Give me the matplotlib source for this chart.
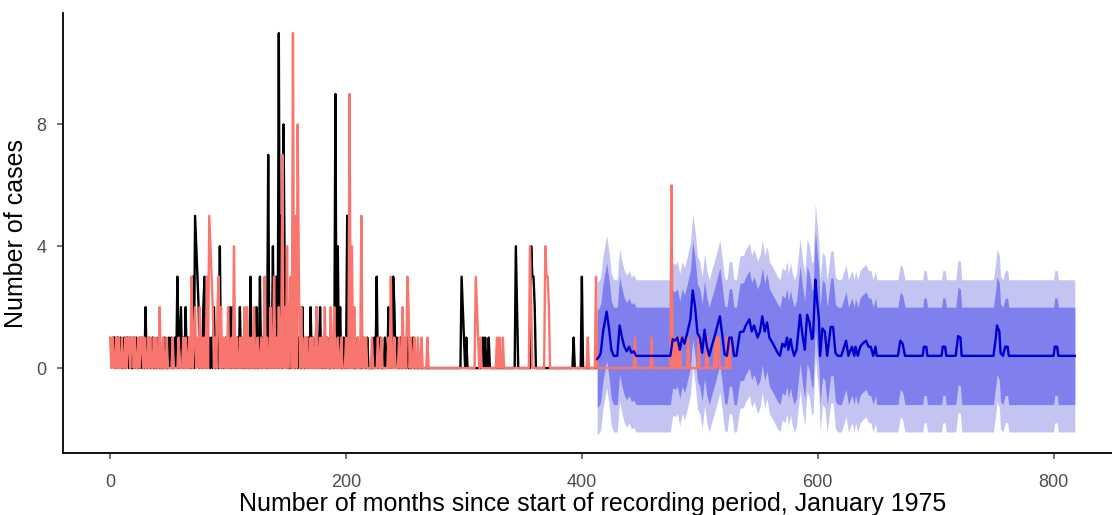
import matplotlib
matplotlib.use("Agg")
import matplotlib.pyplot as plt
import numpy as np

plt.rcParams['font.family'] = ['Liberation Sans', 'DejaVu Sans']

# monthly case counts, only the months with cases (all other months are 0)
obs_months = [3, 4, 6, 7, 9, 12, 14, 15, 17, 20, 22, 25, 27, 30, 33, 36, 41, 46, 50, 52,
              55, 57, 59, 60, 62, 64, 66, 68, 70, 72, 73, 74, 75, 77, 79, 80, 82, 84, 86, 88,
              91, 93, 95, 98, 100, 102, 104, 106, 108, 110, 113, 116, 119, 121, 124, 127, 129, 131, 134, 136,
              138, 140, 141, 143, 145, 147, 148, 150, 153, 155, 158, 160, 163, 166, 168, 170, 172, 175, 178, 181,
              184, 188, 191, 193, 195, 198, 201, 203, 205, 210, 215, 218, 224, 226, 229, 233, 236, 238, 240, 241,
              243, 246, 249, 252, 257, 298, 299, 300, 302, 316, 318, 321, 344, 345, 357, 358, 359, 360, 393, 400]
obs_cases = [1, 1, 1, 1, 1, 1, 1, 1, 1, 1, 1, 1, 1, 2, 1, 1, 1, 1, 1, 1,
             1, 3, 1, 2, 1, 2, 1, 1, 3, 5, 4, 3, 2, 1, 2, 3, 2, 1, 1, 2,
             1, 4, 1, 1, 1, 2, 2, 1, 1, 2, 1, 1, 3, 1, 2, 3, 1, 2, 7, 2,
             4, 1, 3, 11, 5, 8, 3, 2, 1, 1, 1, 1, 2, 1, 1, 2, 1, 2, 2, 1,
             1, 1, 9, 4, 2, 1, 5, 1, 1, 1, 1, 1, 1, 3, 1, 1, 2, 1, 3, 2,
             1, 1, 1, 1, 1, 3, 2, 1, 1, 1, 1, 1, 4, 2, 4, 3, 3, 2, 1, 3]
obs_end = 412

# lagged series (12 months), again only non-zero months
lag_months = [0, 2, 5, 7, 10, 13, 15, 16, 18, 19, 21, 24, 26, 27, 29, 32, 34, 37, 39, 42,
              45, 48, 53, 58, 62, 64, 67, 69, 71, 72, 74, 76, 78, 80, 82, 84, 85, 86, 87, 89,
              91, 92, 94, 96, 98, 100, 103, 105, 107, 110, 112, 114, 116, 118, 120, 122, 125, 128, 131, 133,
              136, 139, 141, 143, 146, 148, 150, 152, 153, 155, 157, 159, 160, 162, 165, 167, 170, 172, 175, 178,
              180, 182, 184, 187, 190, 193, 196, 200, 203, 205, 207, 210, 213, 215, 217, 222, 227, 230, 236, 238,
              241, 245, 248, 250, 252, 253, 255, 258, 261, 264, 269, 310, 311, 312, 314, 328, 330, 333, 356, 357,
              369, 370, 371, 372, 405, 412, 445, 459, 476, 479, 481, 483, 490, 499, 506, 513, 515, 516, 523, 525]
lag_cases = [1, 1, 1, 1, 1, 1, 1, 1, 1, 1, 1, 1, 1, 1, 1, 1, 1, 1, 1, 2,
             1, 1, 1, 1, 1, 1, 1, 3, 1, 2, 1, 2, 1, 1, 3, 5, 4, 3, 2, 1,
             2, 3, 2, 1, 1, 2, 1, 4, 1, 1, 1, 2, 2, 1, 1, 2, 1, 1, 3, 1,
             2, 3, 1, 2, 7, 2, 4, 1, 3, 11, 5, 8, 3, 2, 1, 1, 1, 1, 2, 1,
             1, 2, 1, 2, 2, 1, 1, 1, 9, 4, 2, 1, 5, 1, 1, 1, 1, 1, 1, 3,
             1, 1, 2, 1, 3, 2, 1, 1, 1, 1, 1, 3, 2, 1, 1, 1, 1, 1, 4, 2,
             4, 3, 3, 2, 1, 3, 1, 1, 6, 1, 1, 1, 1, 1, 1, 1, 1, 1, 1, 1]
lag_end = 526

# forecast mean
fc_months = [413, 415, 416, 418, 421, 423, 425, 427, 430, 432, 434, 436, 438, 440, 442, 444, 446, 475, 477, 479,
             481, 483, 485, 487, 489, 492, 494, 496, 498, 500, 502, 504, 506, 508, 510, 513, 517, 519, 521, 523,
             525, 527, 529, 531, 534, 537, 539, 542, 544, 546, 549, 551, 553, 555, 557, 559, 562, 566, 568, 570,
             572, 574, 575, 577, 578, 580, 582, 585, 587, 589, 591, 593, 595, 596, 598, 599, 601, 602, 604, 606,
             608, 611, 613, 615, 617, 620, 624, 626, 629, 631, 632, 634, 636, 638, 641, 643, 645, 647, 649, 650,
             668, 670, 672, 674, 689, 690, 692, 693, 705, 706, 708, 709, 717, 719, 721, 722, 749, 751, 752, 754,
             755, 757, 759, 761, 762, 800, 801, 803, 804, 818]
fc_mean = [0.3, 0.4, 0.5, 1.2, 1.85, 1.3, 0.6, 0.4, 0.4, 1.4, 1.0, 0.7, 0.55, 0.7, 0.5, 0.55, 0.4, 0.4, 0.95, 0.9,
           1.0, 0.6, 1.0, 0.8, 1.1, 1.6, 2.55, 2.0, 1.15, 1.0, 0.5, 1.26, 0.7, 0.4, 0.7, 1.1, 1.7, 1.1, 0.45, 0.4,
           1.0, 1.0, 0.4, 0.4, 1.18, 1.2, 1.4, 1.6, 1.2, 1.4, 1.0, 1.2, 1.7, 1.2, 1.5, 1.0, 0.8, 0.5, 0.4, 0.8,
           0.7, 1.0, 0.6, 0.95, 0.7, 0.4, 0.6, 1.75, 1.1, 0.6, 1.75, 1.5, 0.95, 1.0, 2.9, 2.4, 1.6, 0.4, 1.3, 1.2,
           0.4, 1.35, 1.35, 0.5, 0.4, 0.4, 0.9, 0.4, 0.7, 0.4, 0.7, 0.4, 0.7, 0.8, 0.9, 0.7, 0.7, 0.4, 0.7, 0.4,
           0.4, 0.9, 0.8, 0.4, 0.4, 0.7, 0.7, 0.4, 0.4, 0.7, 0.7, 0.4, 0.4, 1.05, 1.0, 0.4, 0.4, 1.0, 1.4, 1.2,
           0.5, 0.4, 0.7, 0.7, 0.4, 0.4, 0.7, 0.7, 0.4, 0.4]
# half widths of the prediction intervals
inner_half = 1.6
outer_half = 2.5


def monthly(months, cases, end):
    x = np.arange(min(months), end + 1)
    y = np.zeros(len(x))
    for m, c in zip(months, cases):
        y[m - x[0]] = c
    return x, y


x_obs, y_obs = monthly(obs_months, obs_cases, obs_end)
x_lag, y_lag = monthly(lag_months, lag_cases, lag_end)
fc_x = np.array(fc_months)
fc_y = np.array(fc_mean)

fig = plt.figure(figsize=(11.12, 5.15), dpi=100)
ax = fig.add_axes([63 / 1112, 62 / 515, 1059 / 1112, 440 / 515])

ax.fill_between(fc_x, fc_y - outer_half, fc_y + outer_half, color='#c4c4f3', lw=0)
ax.fill_between(fc_x, fc_y - inner_half, fc_y + inner_half, color='#7f7fee', lw=0)
ax.plot(x_obs, y_obs, color='black', lw=1.7)
ax.plot(x_lag, y_lag, color='#f8766d', lw=1.7)
ax.plot(fc_x, fc_y, color='#0000cd', lw=1.7)

ax.set_xlim(-40, 858)
ax.set_ylim(-2.79, 11.66)
ax.set_xticks([0, 200, 400, 600, 800])
ax.set_yticks([0, 4, 8])
for s in ['top', 'right']:
    ax.spines[s].set_visible(False)
for s in ['left', 'bottom']:
    ax.spines[s].set_linewidth(1.3)
ax.tick_params(labelsize=13, colors='#4d4d4d', length=4, width=1.1, labelcolor='#4d4d4d')
ax.tick_params(axis='x', pad=11)
ax.tick_params(axis='y', pad=8)
ax.set_xlabel('Number of months since start of recording period, January 1975', fontsize=18, labelpad=1)
ax.set_ylabel('Number of cases', fontsize=18, labelpad=6)

fig.savefig('out.png', dpi=100)
